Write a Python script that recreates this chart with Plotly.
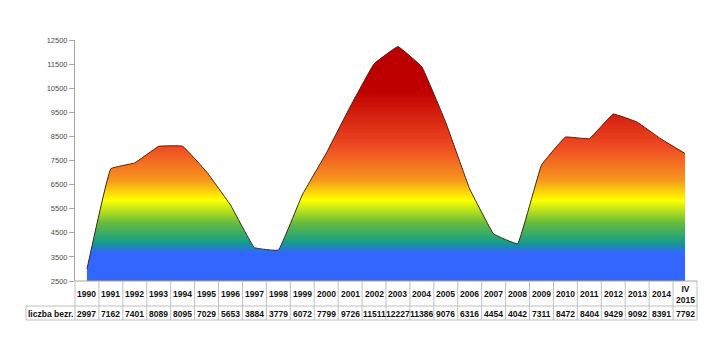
import plotly.graph_objects as go

years = ["1990", "1991", "1992", "1993", "1994", "1995", "1996", "1997", "1998",
         "1999", "2000", "2001", "2002", "2003", "2004", "2005", "2006", "2007",
         "2008", "2009", "2010", "2011", "2012", "2013", "2014", "IV<br>2015"]
values = [2997, 7162, 7401, 8089, 8095, 7029, 5653, 3884, 3779, 6072, 7799, 9726,
          11511, 12227, 11386, 9076, 6316, 4454, 4042, 7311, 8472, 8404, 9429,
          9092, 8391, 7792]
row_label = "liczba bezr."
y_ticks = [2500, 3500, 4500, 5500, 6500, 7500, 8500, 9500, 10500, 11500, 12500]

N = len(years)
W, H = 721, 338
ML, MR, MT, MB = 75, 24, 40, 57
plot_h = H - MT - MB

def py2paper(py):
    return (H - MB - py) / plot_h

colorscale = [
    [0.0, "#3366ff"], [0.115, "#3366ff"], [0.155, "#129a8c"], [0.24, "#66bb3c"],
    [0.335, "#ffff00"], [0.42, "#f7941e"], [0.555, "#ef4b24"], [0.79, "#c00000"],
    [1.0, "#b80000"],
]

fig = go.Figure()
fig.add_trace(go.Scatter(
    x=list(range(N)), y=values, mode="lines",
    line=dict(color="#3a2a1a", width=1, shape="spline", smoothing=0.2),
    fill="tozeroy",
    fillgradient=dict(type="vertical", colorscale=colorscale, start=2500, stop=12500),
    hoverinfo="skip", showlegend=False,
))

fig.update_xaxes(range=[-0.5, N - 0.5], showticklabels=False, showgrid=False,
                 zeroline=False, showline=False, ticks="")
fig.update_yaxes(range=[y_ticks[0], y_ticks[-1]], tickvals=y_ticks,
                 ticktext=[str(t) for t in y_ticks],
                 showgrid=False, zeroline=False, showline=True, linecolor="#a6a6a6",
                 linewidth=1, ticks="outside", ticklen=5, tickcolor="#a6a6a6",
                 tickfont=dict(family="Liberation Sans", size=7.5, color="#4d4d4d"))

grid = "#bfbfbf"
shapes = []
annotations = []
row1_top = py2paper(281)
row1_bot = py2paper(306)
row2_bot = py2paper(320)
left_cell = (26 - ML) / (W - ML - MR)
shapes.append(dict(type="line", xref="paper", yref="paper", x0=0, x1=1,
                   y0=row1_top, y1=row1_top, line=dict(color="#a6a6a6", width=1)))
for yy in (row1_bot, row2_bot):
    shapes.append(dict(type="line", xref="paper", yref="paper", x0=left_cell, x1=1,
                       y0=yy, y1=yy, line=dict(color=grid, width=1)))
for i in range(N + 1):
    xx = i / N
    shapes.append(dict(type="line", xref="paper", yref="paper", x0=xx, x1=xx,
                       y0=row1_top, y1=row2_bot, line=dict(color=grid, width=1)))
shapes.append(dict(type="line", xref="paper", yref="paper", x0=left_cell, x1=left_cell,
                   y0=row1_bot, y1=row2_bot, line=dict(color=grid, width=1)))

tfont = dict(family="Liberation Sans", size=8.5, color="#111111")
for i, (yr, v) in enumerate(zip(years, values)):
    xc = (i + 0.5) / N
    annotations.append(dict(xref="paper", yref="paper", x=xc, y=py2paper(294),
                            text="<b>%s</b>" % yr, showarrow=False, font=tfont,
                            xanchor="center", yanchor="middle"))
    annotations.append(dict(xref="paper", yref="paper", x=xc, y=py2paper(313.5),
                            text="<b>%d</b>" % v, showarrow=False, font=tfont,
                            xanchor="center", yanchor="middle"))
annotations.append(dict(xref="paper", yref="paper", x=left_cell / 2,
                        y=py2paper(313.5), text="<b>%s</b>" % row_label,
                        showarrow=False, font=tfont, xanchor="center", yanchor="middle"))

fig.update_layout(width=W, height=H, margin=dict(l=ML, r=MR, t=MT, b=MB),
                  paper_bgcolor="white", plot_bgcolor="white",
                  shapes=shapes, annotations=annotations)
fig.write_html("out.html")
